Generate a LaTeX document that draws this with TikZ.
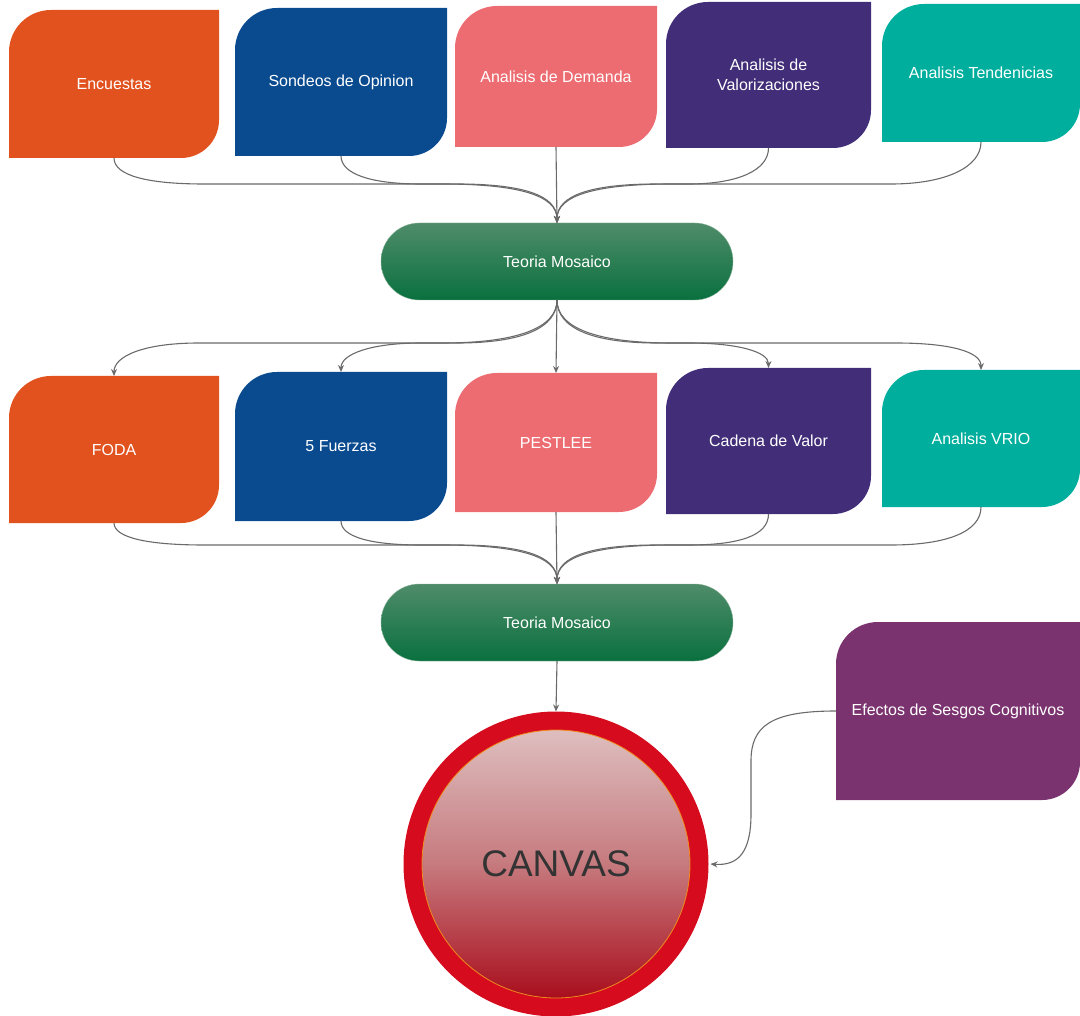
\documentclass[tikz,border=0pt]{standalone}
\usepackage{fontspec}
\setmainfont{Liberation Sans}
\usetikzlibrary{calc,arrows.meta,shapes.misc}

\definecolor{cOrange}{HTML}{E1521F}
\definecolor{cBlue}{HTML}{0A4A8F}
\definecolor{cPink}{HTML}{EC6C71}
\definecolor{cIndigo}{HTML}{422E78}
\definecolor{cTeal}{HTML}{00AE9D}
\definecolor{cPlum}{HTML}{7A336F}
\definecolor{cGreenTop}{HTML}{4F8C69}
\definecolor{cGreenBot}{HTML}{09703E}
\definecolor{cRing}{HTML}{D60B1E}
\definecolor{cInTop}{HTML}{DEBEBF}
\definecolor{cInMid}{HTML}{C67A7E}
\definecolor{cInBot}{HTML}{A90E1D}
\definecolor{cRim}{HTML}{F08A1C}
\definecolor{cLine}{HTML}{6A6A6A}
\definecolor{cCanvasText}{HTML}{333333}

\begin{document}
\begin{tikzpicture}[x=1pt,y=1pt,
  % card: square top-right and bottom-left corners, rounded top-left and bottom-right
  card/.style n args={3}{inner sep=0pt, outer sep=0pt,
    minimum width=#2, minimum height=#3,
    text=white, font=\fontsize{16}{20}\selectfont, align=center,
    path picture={\fill[#1]
      (path picture bounding box.south west)
      -- ($(path picture bounding box.north west)+(0,-42)$)
      arc[start angle=180,end angle=90,radius=42pt]
      -- (path picture bounding box.north east)
      -- ($(path picture bounding box.south east)+(0,38)$)
      arc[start angle=0,end angle=-90,radius=38pt]
      -- cycle;}},
  hub/.style={rounded rectangle, inner sep=0pt, outer sep=0pt,
    minimum width=352pt, minimum height=77pt,
    top color=cGreenTop, bottom color=cGreenBot, draw=cGreenTop!70!white, line width=0.4pt,
    text=white, font=\fontsize{16}{20}\selectfont},
  conn/.style={draw=cLine, line width=1.1pt, -{Stealth[length=7pt,width=6pt]}},
  ]
\useasboundingbox (0,0) rectangle (1080,-1016);

% first row of sources
\node[card={cOrange}{210pt}{148pt}] (enc) at (114,-84) {Encuestas};
\node[card={cBlue}{212pt}{148pt}] (son) at (341,-82) {Sondeos de Opinion};
\node[card={cPink}{202pt}{141pt}] (dem) at (556,-76.5) {Analisis de Demanda};
\node[card={cIndigo}{205pt}{146pt}] (val) at (768.5,-75) {Analisis de\\Valorizaciones};
\node[card={cTeal}{198pt}{138pt}] (ten) at (981,-73) {Analisis Tendenicias};

% first synthesis step
\node[hub] (tm1) at (557,-261.5) {Teoria Mosaico};

% second row of analysis tools
\node[card={cOrange}{210pt}{147pt}] (foda) at (114,-449.5) {FODA};
\node[card={cBlue}{212pt}{149pt}] (fue) at (341,-446.5) {5 Fuerzas};
\node[card={cPink}{202pt}{139pt}] (pes) at (556,-442.5) {PESTLEE};
\node[card={cIndigo}{205pt}{146pt}] (cad) at (768.5,-441) {Cadena de Valor};
\node[card={cTeal}{198pt}{137pt}] (vrio) at (981,-438.5) {Analisis VRIO};

% second synthesis step
\node[hub] (tm2) at (557,-622.5) {Teoria Mosaico};

% outcome
\node[circle, inner sep=0pt, outer sep=0pt, minimum size=305pt, fill=cRing] (canvas) at (556,-864) {};
\node[circle, inner sep=0pt, minimum size=268pt, top color=cInTop, bottom color=cInBot,
      middle color=cInMid, draw=cRim, line width=0.8pt, text=cCanvasText,
      font=\fontsize{37}{44}\selectfont] (canvasin) at (canvas.center) {CANVAS};

\node[card={cPlum}{244pt}{178pt}] (efe) at (958,-711) {Efectos de Sesgos Cognitivos};

% routing levels of the connector bundles
\coordinate (lev1) at (0,-184);
\coordinate (lev2) at (0,-343);
\coordinate (lev3) at (0,-545);
\coordinate (efx) at (751,0);

% sources -> first Teoria Mosaico
\draw[conn] (enc.south) .. controls +(0,-18) and +(-55,0) .. ($(enc.south |- lev1)+(90,0)$)
  -- ($(tm1.north |- lev1)+(-115,0)$) .. controls +(75,0) and +(0,28) .. (tm1.north);
\draw[conn] (son.south) .. controls +(0,-18) and +(-50,0) .. ($(son.south |- lev1)+(80,0)$)
  -- ($(tm1.north |- lev1)+(-100,0)$) .. controls +(65,0) and +(0,28) .. (tm1.north);
\draw[conn] (dem.south) -- (tm1.north);
\draw[conn] (val.south) .. controls +(0,-22) and +(50,0) .. ($(val.south |- lev1)+(-80,0)$)
  -- ($(tm1.north |- lev1)+(100,0)$) .. controls +(-65,0) and +(0,28) .. (tm1.north);
\draw[conn] (ten.south) .. controls +(0,-25) and +(55,0) .. ($(ten.south |- lev1)+(-90,0)$)
  -- ($(tm1.north |- lev1)+(115,0)$) .. controls +(-75,0) and +(0,28) .. (tm1.north);

% first Teoria Mosaico -> analysis tools
\draw[conn] (tm1.south) .. controls +(0,-28) and +(75,0) .. ($(tm1.south |- lev2)+(-115,0)$)
  -- ($(foda.north |- lev2)+(85,0)$) .. controls +(-55,0) and +(0,20) .. (foda.north);
\draw[conn] (tm1.south) .. controls +(0,-28) and +(65,0) .. ($(tm1.south |- lev2)+(-100,0)$)
  -- ($(fue.north |- lev2)+(80,0)$) .. controls +(-50,0) and +(0,18) .. (fue.north);
\draw[conn] (tm1.south) -- (pes.north);
\draw[conn] (tm1.south) .. controls +(0,-28) and +(-65,0) .. ($(tm1.south |- lev2)+(100,0)$)
  -- ($(cad.north |- lev2)+(-80,0)$) .. controls +(50,0) and +(0,16) .. (cad.north);
\draw[conn] (tm1.south) .. controls +(0,-28) and +(-75,0) .. ($(tm1.south |- lev2)+(115,0)$)
  -- ($(vrio.north |- lev2)+(-85,0)$) .. controls +(55,0) and +(0,18) .. (vrio.north);

% analysis tools -> second Teoria Mosaico
\draw[conn] (foda.south) .. controls +(0,-15) and +(-55,0) .. ($(foda.south |- lev3)+(90,0)$)
  -- ($(tm2.north |- lev3)+(-115,0)$) .. controls +(75,0) and +(0,28) .. (tm2.north);
\draw[conn] (fue.south) .. controls +(0,-16) and +(-50,0) .. ($(fue.south |- lev3)+(80,0)$)
  -- ($(tm2.north |- lev3)+(-100,0)$) .. controls +(65,0) and +(0,28) .. (tm2.north);
\draw[conn] (pes.south) -- (tm2.north);
\draw[conn] (cad.south) .. controls +(0,-22) and +(50,0) .. ($(cad.south |- lev3)+(-80,0)$)
  -- ($(tm2.north |- lev3)+(100,0)$) .. controls +(-65,0) and +(0,28) .. (tm2.north);
\draw[conn] (vrio.south) .. controls +(0,-25) and +(55,0) .. ($(vrio.south |- lev3)+(-90,0)$)
  -- ($(tm2.north |- lev3)+(115,0)$) .. controls +(-75,0) and +(0,28) .. (tm2.north);

% second Teoria Mosaico -> CANVAS
\draw[conn] (tm2.south) -- (canvas.north);

% cognitive bias effects -> CANVAS
\draw[conn] (efe.west) .. controls +(-65,0) and +(0,35) .. ($(efe.west -| efx)+(0,-50)$)
  -- ($(canvas.east -| efx)+(0,50)$) .. controls +(0,-38) and +(28,-2) .. ([xshift=2pt]canvas.east);
\end{tikzpicture}
\end{document}
